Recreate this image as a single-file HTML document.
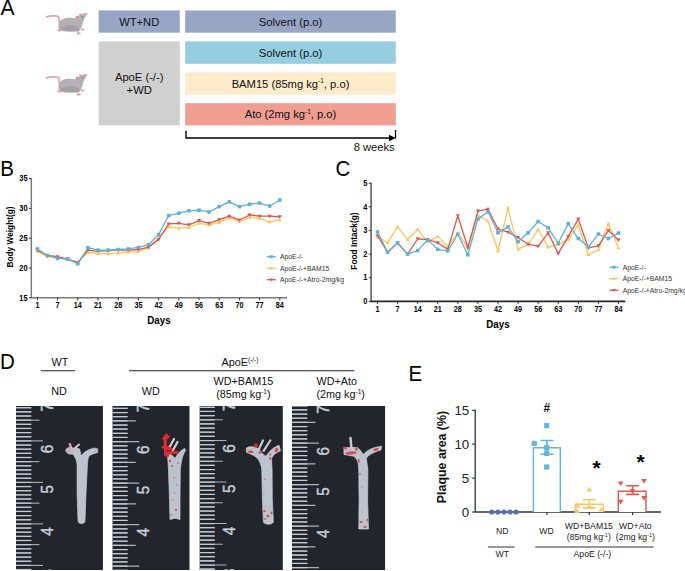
<!DOCTYPE html>
<html><head><meta charset="utf-8"><style>
html,body{margin:0;padding:0;background:#fff;width:685px;height:571px;overflow:hidden}
svg{display:block}
text{font-family:"Liberation Sans",sans-serif}
</style></head><body>
<svg width="685" height="571" viewBox="0 0 685 571">
<defs><filter id="soft" x="-20%" y="-20%" width="140%" height="140%"><feGaussianBlur stdDeviation="0.35"/></filter></defs>
<text transform="translate(0.6,15.0) scale(1.03,1.1)" font-size="20.5" text-anchor="start" font-weight="normal" fill="#000" >A</text>
<g transform="translate(0,0)"><path d="M46.5,16.9 C49,15.9 52,15.6 55.5,15.9 C57.5,16 58.8,16.5 59,17.8 C59.2,19.5 58.8,21 59.6,23.2" fill="none" stroke="#dba7ac" stroke-width="1.7" stroke-linecap="round"/><ellipse cx="59.6" cy="30.3" rx="2.3" ry="1.3" fill="#dba7ac"/><ellipse cx="82.6" cy="29.6" rx="1.9" ry="1.1" fill="#dba7ac"/><ellipse cx="78.6" cy="33.4" rx="2.1" ry="1.2" fill="#dba7ac"/><path d="M58.4,27 C58,23 60,20 63.5,18.8 C66,18 69.5,17.6 72.5,18 C74,18.3 75,18.6 76.2,17.9 C78,16.5 80.5,14.2 83.2,13.5 C84.5,13.2 85.8,13.3 86.9,13.7 C86.6,15.5 85.3,17.4 83.8,19.5 C83.2,22 82.5,25 81.4,27.5 C80.8,29 79.8,30.5 78.8,31.8 C75.5,31.4 72.5,31.6 69,31.5 C65,31.4 61.5,30.9 59.8,29.9 C58.8,29.1 58.4,28 58.4,27 Z" fill="#b4b0b3"/><path d="M60,28.5 C63,26 68,24.5 73,25 C76,25.5 78.5,27 79.5,29.5 C78.5,31 76,31.3 72,31.4 C66,31.4 62,30.8 60,28.5 Z" fill="#979396" opacity="0.55"/><ellipse cx="77.4" cy="17.6" rx="1.9" ry="2.1" fill="#cf9ea4"/><ellipse cx="80.2" cy="14.8" rx="1.1" ry="1.3" fill="#d69aa0"/><circle cx="82.3" cy="16.8" r="0.6" fill="#444"/><circle cx="86.8" cy="13.8" r="0.8" fill="#dc9aa2"/></g>
<g transform="translate(0,61)"><path d="M46.5,16.9 C49,15.9 52,15.6 55.5,15.9 C57.5,16 58.8,16.5 59,17.8 C59.2,19.5 58.8,21 59.6,23.2" fill="none" stroke="#dba7ac" stroke-width="1.7" stroke-linecap="round"/><ellipse cx="59.6" cy="30.3" rx="2.3" ry="1.3" fill="#dba7ac"/><ellipse cx="82.6" cy="29.6" rx="1.9" ry="1.1" fill="#dba7ac"/><ellipse cx="78.6" cy="33.4" rx="2.1" ry="1.2" fill="#dba7ac"/><path d="M58.4,27 C58,23 60,20 63.5,18.8 C66,18 69.5,17.6 72.5,18 C74,18.3 75,18.6 76.2,17.9 C78,16.5 80.5,14.2 83.2,13.5 C84.5,13.2 85.8,13.3 86.9,13.7 C86.6,15.5 85.3,17.4 83.8,19.5 C83.2,22 82.5,25 81.4,27.5 C80.8,29 79.8,30.5 78.8,31.8 C75.5,31.4 72.5,31.6 69,31.5 C65,31.4 61.5,30.9 59.8,29.9 C58.8,29.1 58.4,28 58.4,27 Z" fill="#b4b0b3"/><path d="M60,28.5 C63,26 68,24.5 73,25 C76,25.5 78.5,27 79.5,29.5 C78.5,31 76,31.3 72,31.4 C66,31.4 62,30.8 60,28.5 Z" fill="#979396" opacity="0.55"/><ellipse cx="77.4" cy="17.6" rx="1.9" ry="2.1" fill="#cf9ea4"/><ellipse cx="80.2" cy="14.8" rx="1.1" ry="1.3" fill="#d69aa0"/><circle cx="82.3" cy="16.8" r="0.6" fill="#444"/><circle cx="86.8" cy="13.8" r="0.8" fill="#dc9aa2"/></g>
<rect x="98.7" y="10.4" width="81.1" height="22.3" fill="#98a6c6"/>
<rect x="98.7" y="41.4" width="81.1" height="84.0" fill="#d1d0d1"/>
<rect x="185.2" y="10.4" width="210.6" height="22.3" fill="#98a6c6"/>
<rect x="185.2" y="41.4" width="210.6" height="22.4" fill="#96cde0"/>
<rect x="185.2" y="72.4" width="210.6" height="22.2" fill="#fdebc9"/>
<rect x="185.2" y="103.2" width="210.6" height="22.2" fill="#f09d92"/>
<text x="139.2" y="25.6" font-size="11.2" text-anchor="middle" font-weight="normal" fill="#111" >WT+ND</text>
<text x="139.2" y="80.5" font-size="11.2" text-anchor="middle" font-weight="normal" fill="#111" >ApoE (-/-)</text>
<text x="139.2" y="93.5" font-size="11.2" text-anchor="middle" font-weight="normal" fill="#111" >+WD</text>
<text x="290.5" y="56.6" font-size="11.2" text-anchor="middle" font-weight="normal" fill="#111" >Solvent (p.o)</text>
<text x="290.5" y="25.6" font-size="11.2" text-anchor="middle" font-weight="normal" fill="#111" >Solvent (p.o)</text>
<text x="290.5" y="87.5" font-size="11.2" text-anchor="middle" font-weight="normal" fill="#111" >BAM15 (85mg kg<tspan font-size="6.5" dy="-4.2">-1</tspan><tspan dy="4.2">, p.o)</tspan></text>
<text x="290.5" y="118.3" font-size="11.2" text-anchor="middle" font-weight="normal" fill="#111" >Ato (2mg kg<tspan font-size="6.5" dy="-4.2">-1</tspan><tspan dy="4.2">, p.o)</tspan></text>
<path d="M186,130.8 V138 H390" fill="none" stroke="#000" stroke-width="1.4"/>
<path d="M395.5,130 V138.6" fill="none" stroke="#000" stroke-width="1.3"/>
<path d="M389,134.8 L395.6,138 L389,141.2 Z" fill="#000"/>
<text x="394.7" y="150.6" font-size="11.2" text-anchor="end" font-weight="normal" fill="#111" >8 weeks</text>
<text transform="translate(0.2,175.6) scale(1.0,1.1)" font-size="20.5" text-anchor="start" font-weight="normal" fill="#000" >B</text>
<path d="M31.3,178.1 V297.8" fill="none" stroke="#7a7a7a" stroke-width="1.5"/>
<path d="M30.55,297.8 H287" fill="none" stroke="#7a7a7a" stroke-width="1.6"/>
<path d="M28.900000000000002,297.80 H31.3" stroke="#222" stroke-width="0.9"/>
<text transform="translate(27.5,300.5) scale(1.0,1.2)" font-size="7.4" text-anchor="end" font-weight="bold" fill="#000" >15</text>
<path d="M28.900000000000002,268.00 H31.3" stroke="#222" stroke-width="0.9"/>
<text transform="translate(27.5,270.7) scale(1.0,1.2)" font-size="7.4" text-anchor="end" font-weight="bold" fill="#000" >20</text>
<path d="M28.900000000000002,238.20 H31.3" stroke="#222" stroke-width="0.9"/>
<text transform="translate(27.5,240.89999999999998) scale(1.0,1.2)" font-size="7.4" text-anchor="end" font-weight="bold" fill="#000" >25</text>
<path d="M28.900000000000002,208.40 H31.3" stroke="#222" stroke-width="0.9"/>
<text transform="translate(27.5,211.1) scale(1.0,1.2)" font-size="7.4" text-anchor="end" font-weight="bold" fill="#000" >30</text>
<path d="M28.900000000000002,178.60 H31.3" stroke="#222" stroke-width="0.9"/>
<text transform="translate(27.5,181.29999999999998) scale(1.0,1.2)" font-size="7.4" text-anchor="end" font-weight="bold" fill="#000" >35</text>
<path d="M37.40,297.8 V300.40000000000003" stroke="#222" stroke-width="0.9"/>
<text transform="translate(37.40,308.1) scale(1.0,1.2)" font-size="7.2" text-anchor="middle" font-weight="bold" fill="#000" >1</text>
<path d="M57.60,297.8 V300.40000000000003" stroke="#222" stroke-width="0.9"/>
<text transform="translate(57.60,308.1) scale(1.0,1.2)" font-size="7.2" text-anchor="middle" font-weight="bold" fill="#000" >7</text>
<path d="M77.80,297.8 V300.40000000000003" stroke="#222" stroke-width="0.9"/>
<text transform="translate(77.80,308.1) scale(1.0,1.2)" font-size="7.2" text-anchor="middle" font-weight="bold" fill="#000" >14</text>
<path d="M98.00,297.8 V300.40000000000003" stroke="#222" stroke-width="0.9"/>
<text transform="translate(98.00,308.1) scale(1.0,1.2)" font-size="7.2" text-anchor="middle" font-weight="bold" fill="#000" >21</text>
<path d="M118.20,297.8 V300.40000000000003" stroke="#222" stroke-width="0.9"/>
<text transform="translate(118.20,308.1) scale(1.0,1.2)" font-size="7.2" text-anchor="middle" font-weight="bold" fill="#000" >28</text>
<path d="M138.40,297.8 V300.40000000000003" stroke="#222" stroke-width="0.9"/>
<text transform="translate(138.40,308.1) scale(1.0,1.2)" font-size="7.2" text-anchor="middle" font-weight="bold" fill="#000" >35</text>
<path d="M158.60,297.8 V300.40000000000003" stroke="#222" stroke-width="0.9"/>
<text transform="translate(158.60,308.1) scale(1.0,1.2)" font-size="7.2" text-anchor="middle" font-weight="bold" fill="#000" >42</text>
<path d="M178.80,297.8 V300.40000000000003" stroke="#222" stroke-width="0.9"/>
<text transform="translate(178.80,308.1) scale(1.0,1.2)" font-size="7.2" text-anchor="middle" font-weight="bold" fill="#000" >49</text>
<path d="M199.00,297.8 V300.40000000000003" stroke="#222" stroke-width="0.9"/>
<text transform="translate(199.00,308.1) scale(1.0,1.2)" font-size="7.2" text-anchor="middle" font-weight="bold" fill="#000" >56</text>
<path d="M219.20,297.8 V300.40000000000003" stroke="#222" stroke-width="0.9"/>
<text transform="translate(219.20,308.1) scale(1.0,1.2)" font-size="7.2" text-anchor="middle" font-weight="bold" fill="#000" >63</text>
<path d="M239.40,297.8 V300.40000000000003" stroke="#222" stroke-width="0.9"/>
<text transform="translate(239.40,308.1) scale(1.0,1.2)" font-size="7.2" text-anchor="middle" font-weight="bold" fill="#000" >70</text>
<path d="M259.60,297.8 V300.40000000000003" stroke="#222" stroke-width="0.9"/>
<text transform="translate(259.60,308.1) scale(1.0,1.2)" font-size="7.2" text-anchor="middle" font-weight="bold" fill="#000" >77</text>
<path d="M279.80,297.8 V300.40000000000003" stroke="#222" stroke-width="0.9"/>
<text transform="translate(279.80,308.1) scale(1.0,1.2)" font-size="7.2" text-anchor="middle" font-weight="bold" fill="#000" >84</text>
<polyline points="37.40,251.31 47.50,256.68 57.60,257.27 67.70,259.06 77.80,262.04 87.90,252.50 98.00,253.70 108.10,253.70 118.20,253.10 128.30,251.91 138.40,251.31 148.50,247.74 158.60,238.20 168.70,226.88 178.80,228.07 188.90,227.77 199.00,223.30 209.10,224.79 219.20,222.41 229.30,217.94 239.40,221.51 249.50,217.34 259.60,218.53 269.70,221.81 279.80,219.72" fill="none" stroke="#fcc65c" stroke-width="1.3" stroke-linejoin="round"/>
<path d="M37.40,249.30 L39.41,252.82 L35.39,252.82 Z" fill="#fcc65c"/>
<path d="M47.50,254.66 L49.51,258.19 L45.49,258.19 Z" fill="#fcc65c"/>
<path d="M57.60,255.26 L59.61,258.78 L55.59,258.78 Z" fill="#fcc65c"/>
<path d="M67.70,257.05 L69.71,260.57 L65.69,260.57 Z" fill="#fcc65c"/>
<path d="M77.80,260.03 L79.81,263.55 L75.79,263.55 Z" fill="#fcc65c"/>
<path d="M87.90,250.49 L89.91,254.01 L85.89,254.01 Z" fill="#fcc65c"/>
<path d="M98.00,251.68 L100.01,255.21 L95.99,255.21 Z" fill="#fcc65c"/>
<path d="M108.10,251.68 L110.11,255.21 L106.09,255.21 Z" fill="#fcc65c"/>
<path d="M118.20,251.09 L120.21,254.61 L116.19,254.61 Z" fill="#fcc65c"/>
<path d="M128.30,249.90 L130.31,253.42 L126.29,253.42 Z" fill="#fcc65c"/>
<path d="M138.40,249.30 L140.41,252.82 L136.39,252.82 Z" fill="#fcc65c"/>
<path d="M148.50,245.72 L150.51,249.25 L146.49,249.25 Z" fill="#fcc65c"/>
<path d="M158.60,236.19 L160.61,239.71 L156.59,239.71 Z" fill="#fcc65c"/>
<path d="M168.70,224.86 L170.71,228.39 L166.69,228.39 Z" fill="#fcc65c"/>
<path d="M178.80,226.06 L180.81,229.58 L176.79,229.58 Z" fill="#fcc65c"/>
<path d="M188.90,225.76 L190.91,229.28 L186.89,229.28 Z" fill="#fcc65c"/>
<path d="M199.00,221.29 L201.01,224.81 L196.99,224.81 Z" fill="#fcc65c"/>
<path d="M209.10,222.78 L211.11,226.30 L207.09,226.30 Z" fill="#fcc65c"/>
<path d="M219.20,220.39 L221.21,223.92 L217.19,223.92 Z" fill="#fcc65c"/>
<path d="M229.30,215.92 L231.31,219.45 L227.29,219.45 Z" fill="#fcc65c"/>
<path d="M239.40,219.50 L241.41,223.02 L237.39,223.02 Z" fill="#fcc65c"/>
<path d="M249.50,215.33 L251.51,218.85 L247.49,218.85 Z" fill="#fcc65c"/>
<path d="M259.60,216.52 L261.61,220.04 L257.59,220.04 Z" fill="#fcc65c"/>
<path d="M269.70,219.80 L271.71,223.32 L267.69,223.32 Z" fill="#fcc65c"/>
<path d="M279.80,217.71 L281.81,221.23 L277.79,221.23 Z" fill="#fcc65c"/>
<polyline points="37.40,250.12 47.50,255.48 57.60,256.68 67.70,259.06 77.80,262.64 87.90,250.12 98.00,251.31 108.10,250.72 118.20,250.12 128.30,250.12 138.40,249.52 148.50,247.14 158.60,239.39 168.70,223.90 178.80,223.30 188.90,224.79 199.00,220.62 209.10,223.30 219.20,219.72 229.30,216.15 239.40,220.02 249.50,214.96 259.60,216.15 269.70,216.15 279.80,216.74" fill="none" stroke="#e2554c" stroke-width="1.3" stroke-linejoin="round"/>
<path d="M37.40,252.13 L39.41,248.61 L35.39,248.61 Z" fill="#e2554c"/>
<path d="M47.50,257.50 L49.51,253.97 L45.49,253.97 Z" fill="#e2554c"/>
<path d="M57.60,258.69 L59.61,255.17 L55.59,255.17 Z" fill="#e2554c"/>
<path d="M67.70,261.07 L69.71,257.55 L65.69,257.55 Z" fill="#e2554c"/>
<path d="M77.80,264.65 L79.81,261.13 L75.79,261.13 Z" fill="#e2554c"/>
<path d="M87.90,252.13 L89.91,248.61 L85.89,248.61 Z" fill="#e2554c"/>
<path d="M98.00,253.32 L100.01,249.80 L95.99,249.80 Z" fill="#e2554c"/>
<path d="M108.10,252.73 L110.11,249.21 L106.09,249.21 Z" fill="#e2554c"/>
<path d="M118.20,252.13 L120.21,248.61 L116.19,248.61 Z" fill="#e2554c"/>
<path d="M128.30,252.13 L130.31,248.61 L126.29,248.61 Z" fill="#e2554c"/>
<path d="M138.40,251.54 L140.41,248.01 L136.39,248.01 Z" fill="#e2554c"/>
<path d="M148.50,249.15 L150.51,245.63 L146.49,245.63 Z" fill="#e2554c"/>
<path d="M158.60,241.40 L160.61,237.88 L156.59,237.88 Z" fill="#e2554c"/>
<path d="M168.70,225.91 L170.71,222.39 L166.69,222.39 Z" fill="#e2554c"/>
<path d="M178.80,225.31 L180.81,221.79 L176.79,221.79 Z" fill="#e2554c"/>
<path d="M188.90,226.80 L190.91,223.28 L186.89,223.28 Z" fill="#e2554c"/>
<path d="M199.00,222.63 L201.01,219.11 L196.99,219.11 Z" fill="#e2554c"/>
<path d="M209.10,225.31 L211.11,221.79 L207.09,221.79 Z" fill="#e2554c"/>
<path d="M219.20,221.74 L221.21,218.21 L217.19,218.21 Z" fill="#e2554c"/>
<path d="M229.30,218.16 L231.31,214.64 L227.29,214.64 Z" fill="#e2554c"/>
<path d="M239.40,222.03 L241.41,218.51 L237.39,218.51 Z" fill="#e2554c"/>
<path d="M249.50,216.97 L251.51,213.45 L247.49,213.45 Z" fill="#e2554c"/>
<path d="M259.60,218.16 L261.61,214.64 L257.59,214.64 Z" fill="#e2554c"/>
<path d="M269.70,218.16 L271.71,214.64 L267.69,214.64 Z" fill="#e2554c"/>
<path d="M279.80,218.76 L281.81,215.23 L277.79,215.23 Z" fill="#e2554c"/>
<polyline points="37.40,248.93 47.50,255.48 57.60,258.46 67.70,259.06 77.80,263.83 87.90,247.74 98.00,250.12 108.10,250.12 118.20,249.52 128.30,248.93 138.40,247.44 148.50,244.76 158.60,234.62 168.70,215.55 178.80,213.17 188.90,210.78 199.00,210.19 209.10,211.98 219.20,206.61 229.30,201.84 239.40,206.61 249.50,204.23 259.60,203.04 269.70,206.02 279.80,200.06" fill="none" stroke="#5cb2d6" stroke-width="1.3" stroke-linejoin="round"/>
<rect x="35.65" y="247.18" width="3.50" height="3.50" fill="#5cb2d6"/>
<rect x="45.75" y="253.73" width="3.50" height="3.50" fill="#5cb2d6"/>
<rect x="55.85" y="256.71" width="3.50" height="3.50" fill="#5cb2d6"/>
<rect x="65.95" y="257.31" width="3.50" height="3.50" fill="#5cb2d6"/>
<rect x="76.05" y="262.08" width="3.50" height="3.50" fill="#5cb2d6"/>
<rect x="86.15" y="245.99" width="3.50" height="3.50" fill="#5cb2d6"/>
<rect x="96.25" y="248.37" width="3.50" height="3.50" fill="#5cb2d6"/>
<rect x="106.35" y="248.37" width="3.50" height="3.50" fill="#5cb2d6"/>
<rect x="116.45" y="247.77" width="3.50" height="3.50" fill="#5cb2d6"/>
<rect x="126.55" y="247.18" width="3.50" height="3.50" fill="#5cb2d6"/>
<rect x="136.65" y="245.69" width="3.50" height="3.50" fill="#5cb2d6"/>
<rect x="146.75" y="243.01" width="3.50" height="3.50" fill="#5cb2d6"/>
<rect x="156.85" y="232.87" width="3.50" height="3.50" fill="#5cb2d6"/>
<rect x="166.95" y="213.80" width="3.50" height="3.50" fill="#5cb2d6"/>
<rect x="177.05" y="211.42" width="3.50" height="3.50" fill="#5cb2d6"/>
<rect x="187.15" y="209.03" width="3.50" height="3.50" fill="#5cb2d6"/>
<rect x="197.25" y="208.44" width="3.50" height="3.50" fill="#5cb2d6"/>
<rect x="207.35" y="210.23" width="3.50" height="3.50" fill="#5cb2d6"/>
<rect x="217.45" y="204.86" width="3.50" height="3.50" fill="#5cb2d6"/>
<rect x="227.55" y="200.09" width="3.50" height="3.50" fill="#5cb2d6"/>
<rect x="237.65" y="204.86" width="3.50" height="3.50" fill="#5cb2d6"/>
<rect x="247.75" y="202.48" width="3.50" height="3.50" fill="#5cb2d6"/>
<rect x="257.85" y="201.29" width="3.50" height="3.50" fill="#5cb2d6"/>
<rect x="267.95" y="204.27" width="3.50" height="3.50" fill="#5cb2d6"/>
<rect x="278.05" y="198.31" width="3.50" height="3.50" fill="#5cb2d6"/>
<text transform="translate(13.2,237.0) rotate(-90)" font-size="8.3" text-anchor="middle" font-weight="bold" fill="#000">Body Weight(g)</text>
<text transform="translate(159,324.40000000000003) scale(1.0,1.12)" font-size="9.8" text-anchor="middle" font-weight="bold" fill="#000" >Days</text>
<path d="M266.7,256.7 H275.90000000000003" stroke="#5cb2d6" stroke-width="1.3"/>
<rect x="269.80" y="255.20" width="3.00" height="3.00" fill="#5cb2d6"/>
<text x="280.0" y="259.09999999999997" font-size="6.8" text-anchor="start" font-weight="normal" fill="#333" >ApoE-/-</text>
<path d="M266.7,268.2 H275.90000000000003" stroke="#fcc65c" stroke-width="1.3"/>
<path d="M271.30,266.47 L273.03,269.49 L269.57,269.49 Z" fill="#fcc65c"/>
<text x="280.0" y="270.59999999999997" font-size="6.8" text-anchor="start" font-weight="normal" fill="#333" >ApoE-/-+BAM15</text>
<path d="M266.7,279.7 H275.90000000000003" stroke="#e2554c" stroke-width="1.3"/>
<path d="M271.30,281.43 L273.03,278.41 L269.57,278.41 Z" fill="#e2554c"/>
<text x="280.0" y="282.09999999999997" font-size="6.8" text-anchor="start" font-weight="normal" fill="#333" >ApoE-/-+Atro-2mg/kg</text>
<text transform="translate(335.5,176.3) scale(1.0,1.1)" font-size="20.5" text-anchor="start" font-weight="normal" fill="#000" >C</text>
<path d="M371.1,182.7 V301.4" fill="none" stroke="#555555" stroke-width="1.5"/>
<path d="M370.35,301.4 H625.3" fill="none" stroke="#262626" stroke-width="1.6"/>
<path d="M368.70000000000005,301.40 H371.1" stroke="#222" stroke-width="0.9"/>
<text transform="translate(367.3,304.09999999999997) scale(1.0,1.2)" font-size="7.4" text-anchor="end" font-weight="bold" fill="#000" >0</text>
<path d="M368.70000000000005,277.76 H371.1" stroke="#222" stroke-width="0.9"/>
<text transform="translate(367.3,280.46) scale(1.0,1.2)" font-size="7.4" text-anchor="end" font-weight="bold" fill="#000" >1</text>
<path d="M368.70000000000005,254.12 H371.1" stroke="#222" stroke-width="0.9"/>
<text transform="translate(367.3,256.82) scale(1.0,1.2)" font-size="7.4" text-anchor="end" font-weight="bold" fill="#000" >2</text>
<path d="M368.70000000000005,230.48 H371.1" stroke="#222" stroke-width="0.9"/>
<text transform="translate(367.3,233.17999999999998) scale(1.0,1.2)" font-size="7.4" text-anchor="end" font-weight="bold" fill="#000" >3</text>
<path d="M368.70000000000005,206.84 H371.1" stroke="#222" stroke-width="0.9"/>
<text transform="translate(367.3,209.53999999999996) scale(1.0,1.2)" font-size="7.4" text-anchor="end" font-weight="bold" fill="#000" >4</text>
<path d="M368.70000000000005,183.20 H371.1" stroke="#222" stroke-width="0.9"/>
<text transform="translate(367.3,185.89999999999998) scale(1.0,1.2)" font-size="7.4" text-anchor="end" font-weight="bold" fill="#000" >5</text>
<path d="M377.50,301.4 V304.0" stroke="#222" stroke-width="0.9"/>
<text transform="translate(377.50,311.7) scale(1.0,1.2)" font-size="7.2" text-anchor="middle" font-weight="bold" fill="#000" >1</text>
<path d="M397.58,301.4 V304.0" stroke="#222" stroke-width="0.9"/>
<text transform="translate(397.58,311.7) scale(1.0,1.2)" font-size="7.2" text-anchor="middle" font-weight="bold" fill="#000" >7</text>
<path d="M417.66,301.4 V304.0" stroke="#222" stroke-width="0.9"/>
<text transform="translate(417.66,311.7) scale(1.0,1.2)" font-size="7.2" text-anchor="middle" font-weight="bold" fill="#000" >14</text>
<path d="M437.74,301.4 V304.0" stroke="#222" stroke-width="0.9"/>
<text transform="translate(437.74,311.7) scale(1.0,1.2)" font-size="7.2" text-anchor="middle" font-weight="bold" fill="#000" >21</text>
<path d="M457.82,301.4 V304.0" stroke="#222" stroke-width="0.9"/>
<text transform="translate(457.82,311.7) scale(1.0,1.2)" font-size="7.2" text-anchor="middle" font-weight="bold" fill="#000" >28</text>
<path d="M477.90,301.4 V304.0" stroke="#222" stroke-width="0.9"/>
<text transform="translate(477.90,311.7) scale(1.0,1.2)" font-size="7.2" text-anchor="middle" font-weight="bold" fill="#000" >35</text>
<path d="M497.98,301.4 V304.0" stroke="#222" stroke-width="0.9"/>
<text transform="translate(497.98,311.7) scale(1.0,1.2)" font-size="7.2" text-anchor="middle" font-weight="bold" fill="#000" >42</text>
<path d="M518.06,301.4 V304.0" stroke="#222" stroke-width="0.9"/>
<text transform="translate(518.06,311.7) scale(1.0,1.2)" font-size="7.2" text-anchor="middle" font-weight="bold" fill="#000" >49</text>
<path d="M538.14,301.4 V304.0" stroke="#222" stroke-width="0.9"/>
<text transform="translate(538.14,311.7) scale(1.0,1.2)" font-size="7.2" text-anchor="middle" font-weight="bold" fill="#000" >56</text>
<path d="M558.22,301.4 V304.0" stroke="#222" stroke-width="0.9"/>
<text transform="translate(558.22,311.7) scale(1.0,1.2)" font-size="7.2" text-anchor="middle" font-weight="bold" fill="#000" >63</text>
<path d="M578.30,301.4 V304.0" stroke="#222" stroke-width="0.9"/>
<text transform="translate(578.30,311.7) scale(1.0,1.2)" font-size="7.2" text-anchor="middle" font-weight="bold" fill="#000" >70</text>
<path d="M598.38,301.4 V304.0" stroke="#222" stroke-width="0.9"/>
<text transform="translate(598.38,311.7) scale(1.0,1.2)" font-size="7.2" text-anchor="middle" font-weight="bold" fill="#000" >77</text>
<path d="M618.46,301.4 V304.0" stroke="#222" stroke-width="0.9"/>
<text transform="translate(618.46,311.7) scale(1.0,1.2)" font-size="7.2" text-anchor="middle" font-weight="bold" fill="#000" >84</text>
<polyline points="377.50,236.63 387.54,242.54 397.58,226.70 407.62,239.46 417.66,229.53 427.70,241.59 437.74,236.39 447.78,246.56 457.82,232.84 467.86,247.97 477.90,215.11 487.94,221.02 497.98,250.81 508.02,207.79 518.06,249.16 528.10,244.43 538.14,229.53 548.18,247.03 558.22,244.43 568.26,239.70 578.30,225.28 588.34,254.59 598.38,249.86 608.42,223.62 618.46,247.74" fill="none" stroke="#fcc65c" stroke-width="1.3" stroke-linejoin="round"/>
<path d="M377.50,234.61 L379.51,238.14 L375.49,238.14 Z" fill="#fcc65c"/>
<path d="M387.54,240.52 L389.55,244.05 L385.53,244.05 Z" fill="#fcc65c"/>
<path d="M397.58,224.69 L399.59,228.21 L395.57,228.21 Z" fill="#fcc65c"/>
<path d="M407.62,237.45 L409.63,240.97 L405.61,240.97 Z" fill="#fcc65c"/>
<path d="M417.66,227.52 L419.67,231.04 L415.65,231.04 Z" fill="#fcc65c"/>
<path d="M427.70,239.58 L429.71,243.10 L425.69,243.10 Z" fill="#fcc65c"/>
<path d="M437.74,234.38 L439.75,237.90 L435.73,237.90 Z" fill="#fcc65c"/>
<path d="M447.78,244.54 L449.79,248.06 L445.77,248.06 Z" fill="#fcc65c"/>
<path d="M457.82,230.83 L459.83,234.35 L455.81,234.35 Z" fill="#fcc65c"/>
<path d="M467.86,245.96 L469.87,249.48 L465.85,249.48 Z" fill="#fcc65c"/>
<path d="M477.90,213.10 L479.91,216.62 L475.89,216.62 Z" fill="#fcc65c"/>
<path d="M487.94,219.01 L489.95,222.53 L485.93,222.53 Z" fill="#fcc65c"/>
<path d="M497.98,248.80 L499.99,252.32 L495.97,252.32 Z" fill="#fcc65c"/>
<path d="M508.02,205.77 L510.03,209.29 L506.01,209.29 Z" fill="#fcc65c"/>
<path d="M518.06,247.14 L520.07,250.66 L516.05,250.66 Z" fill="#fcc65c"/>
<path d="M528.10,242.42 L530.11,245.94 L526.09,245.94 Z" fill="#fcc65c"/>
<path d="M538.14,227.52 L540.15,231.04 L536.13,231.04 Z" fill="#fcc65c"/>
<path d="M548.18,245.02 L550.19,248.54 L546.17,248.54 Z" fill="#fcc65c"/>
<path d="M558.22,242.42 L560.23,245.94 L556.21,245.94 Z" fill="#fcc65c"/>
<path d="M568.26,237.69 L570.27,241.21 L566.25,241.21 Z" fill="#fcc65c"/>
<path d="M578.30,223.27 L580.31,226.79 L576.29,226.79 Z" fill="#fcc65c"/>
<path d="M588.34,252.58 L590.35,256.10 L586.33,256.10 Z" fill="#fcc65c"/>
<path d="M598.38,247.85 L600.39,251.37 L596.37,251.37 Z" fill="#fcc65c"/>
<path d="M608.42,221.61 L610.43,225.13 L606.41,225.13 Z" fill="#fcc65c"/>
<path d="M618.46,245.72 L620.47,249.25 L616.45,249.25 Z" fill="#fcc65c"/>
<polyline points="377.50,235.68 387.54,252.23 397.58,243.01 407.62,254.12 417.66,238.75 427.70,239.70 437.74,242.77 447.78,249.39 457.82,215.82 467.86,247.74 477.90,211.10 487.94,209.20 497.98,229.06 508.02,232.13 518.06,237.57 528.10,244.19 538.14,246.32 548.18,232.84 558.22,253.65 568.26,236.39 578.30,219.13 588.34,247.97 598.38,245.85 608.42,230.48 618.46,239.94" fill="none" stroke="#e2554c" stroke-width="1.3" stroke-linejoin="round"/>
<path d="M377.50,237.69 L379.51,234.17 L375.49,234.17 Z" fill="#e2554c"/>
<path d="M387.54,254.24 L389.55,250.72 L385.53,250.72 Z" fill="#e2554c"/>
<path d="M397.58,245.02 L399.59,241.50 L395.57,241.50 Z" fill="#e2554c"/>
<path d="M407.62,256.13 L409.63,252.61 L405.61,252.61 Z" fill="#e2554c"/>
<path d="M417.66,240.77 L419.67,237.24 L415.65,237.24 Z" fill="#e2554c"/>
<path d="M427.70,241.71 L429.71,238.19 L425.69,238.19 Z" fill="#e2554c"/>
<path d="M437.74,244.79 L439.75,241.26 L435.73,241.26 Z" fill="#e2554c"/>
<path d="M447.78,251.40 L449.79,247.88 L445.77,247.88 Z" fill="#e2554c"/>
<path d="M457.82,217.84 L459.83,214.31 L455.81,214.31 Z" fill="#e2554c"/>
<path d="M467.86,249.75 L469.87,246.23 L465.85,246.23 Z" fill="#e2554c"/>
<path d="M477.90,213.11 L479.91,209.59 L475.89,209.59 Z" fill="#e2554c"/>
<path d="M487.94,211.22 L489.95,207.69 L485.93,207.69 Z" fill="#e2554c"/>
<path d="M497.98,231.07 L499.99,227.55 L495.97,227.55 Z" fill="#e2554c"/>
<path d="M508.02,234.15 L510.03,230.63 L506.01,230.63 Z" fill="#e2554c"/>
<path d="M518.06,239.58 L520.07,236.06 L516.05,236.06 Z" fill="#e2554c"/>
<path d="M528.10,246.20 L530.11,242.68 L526.09,242.68 Z" fill="#e2554c"/>
<path d="M538.14,248.33 L540.15,244.81 L536.13,244.81 Z" fill="#e2554c"/>
<path d="M548.18,234.86 L550.19,231.33 L546.17,231.33 Z" fill="#e2554c"/>
<path d="M558.22,255.66 L560.23,252.14 L556.21,252.14 Z" fill="#e2554c"/>
<path d="M568.26,238.40 L570.27,234.88 L566.25,234.88 Z" fill="#e2554c"/>
<path d="M578.30,221.15 L580.31,217.62 L576.29,217.62 Z" fill="#e2554c"/>
<path d="M588.34,249.99 L590.35,246.46 L586.33,246.46 Z" fill="#e2554c"/>
<path d="M598.38,247.86 L600.39,244.34 L596.37,244.34 Z" fill="#e2554c"/>
<path d="M608.42,232.49 L610.43,228.97 L606.41,228.97 Z" fill="#e2554c"/>
<path d="M618.46,241.95 L620.47,238.43 L616.45,238.43 Z" fill="#e2554c"/>
<polyline points="377.50,231.90 387.54,251.99 397.58,243.01 407.62,254.12 417.66,250.57 427.70,239.70 437.74,249.39 447.78,250.81 457.82,234.26 467.86,254.83 477.90,219.13 487.94,211.57 497.98,232.84 508.02,226.93 518.06,241.83 528.10,232.84 538.14,221.50 548.18,227.88 558.22,243.25 568.26,223.62 578.30,238.52 588.34,246.79 598.38,234.03 608.42,238.52 618.46,233.08" fill="none" stroke="#5cb2d6" stroke-width="1.3" stroke-linejoin="round"/>
<rect x="375.75" y="230.15" width="3.50" height="3.50" fill="#5cb2d6"/>
<rect x="385.79" y="250.24" width="3.50" height="3.50" fill="#5cb2d6"/>
<rect x="395.83" y="241.26" width="3.50" height="3.50" fill="#5cb2d6"/>
<rect x="405.87" y="252.37" width="3.50" height="3.50" fill="#5cb2d6"/>
<rect x="415.91" y="248.82" width="3.50" height="3.50" fill="#5cb2d6"/>
<rect x="425.95" y="237.95" width="3.50" height="3.50" fill="#5cb2d6"/>
<rect x="435.99" y="247.64" width="3.50" height="3.50" fill="#5cb2d6"/>
<rect x="446.03" y="249.06" width="3.50" height="3.50" fill="#5cb2d6"/>
<rect x="456.07" y="232.51" width="3.50" height="3.50" fill="#5cb2d6"/>
<rect x="466.11" y="253.08" width="3.50" height="3.50" fill="#5cb2d6"/>
<rect x="476.15" y="217.38" width="3.50" height="3.50" fill="#5cb2d6"/>
<rect x="486.19" y="209.82" width="3.50" height="3.50" fill="#5cb2d6"/>
<rect x="496.23" y="231.09" width="3.50" height="3.50" fill="#5cb2d6"/>
<rect x="506.27" y="225.18" width="3.50" height="3.50" fill="#5cb2d6"/>
<rect x="516.31" y="240.08" width="3.50" height="3.50" fill="#5cb2d6"/>
<rect x="526.35" y="231.09" width="3.50" height="3.50" fill="#5cb2d6"/>
<rect x="536.39" y="219.75" width="3.50" height="3.50" fill="#5cb2d6"/>
<rect x="546.43" y="226.13" width="3.50" height="3.50" fill="#5cb2d6"/>
<rect x="556.47" y="241.50" width="3.50" height="3.50" fill="#5cb2d6"/>
<rect x="566.51" y="221.87" width="3.50" height="3.50" fill="#5cb2d6"/>
<rect x="576.55" y="236.77" width="3.50" height="3.50" fill="#5cb2d6"/>
<rect x="586.59" y="245.04" width="3.50" height="3.50" fill="#5cb2d6"/>
<rect x="596.63" y="232.28" width="3.50" height="3.50" fill="#5cb2d6"/>
<rect x="606.67" y="236.77" width="3.50" height="3.50" fill="#5cb2d6"/>
<rect x="616.71" y="231.33" width="3.50" height="3.50" fill="#5cb2d6"/>
<text transform="translate(357.0,241.1) rotate(-90)" font-size="8.3" text-anchor="middle" font-weight="bold" fill="#000">Food Intack(g)</text>
<text transform="translate(498,328.0) scale(1.0,1.12)" font-size="9.8" text-anchor="middle" font-weight="bold" fill="#000" >Days</text>
<path d="M609.4,267.2 H618.6" stroke="#5cb2d6" stroke-width="1.3"/>
<rect x="612.50" y="265.70" width="3.00" height="3.00" fill="#5cb2d6"/>
<text x="622.7" y="269.59999999999997" font-size="6.8" text-anchor="start" font-weight="normal" fill="#333" >ApoE-/-</text>
<path d="M609.4,278.7 H618.6" stroke="#fcc65c" stroke-width="1.3"/>
<path d="M614.00,276.97 L615.73,279.99 L612.27,279.99 Z" fill="#fcc65c"/>
<text x="622.7" y="281.09999999999997" font-size="6.8" text-anchor="start" font-weight="normal" fill="#333" >ApoE-/-+BAM15</text>
<path d="M609.4,290.2 H618.6" stroke="#e2554c" stroke-width="1.3"/>
<path d="M614.00,291.93 L615.73,288.91 L612.27,288.91 Z" fill="#e2554c"/>
<text x="622.7" y="292.59999999999997" font-size="6.8" text-anchor="start" font-weight="normal" fill="#333" >ApoE-/-+Atro-2mg/kg</text>
<text transform="translate(0,369) scale(1.0,1.1)" font-size="20.5" text-anchor="start" font-weight="normal" fill="#000" >D</text>
<text x="60" y="366" font-size="10.8" text-anchor="middle" font-weight="normal" fill="#111" >WT</text>
<path d="M40.9,370.7 H75" stroke="#222" stroke-width="1.1"/>
<path d="M129,370.8 H354.4" stroke="#222" stroke-width="1.1"/>
<text x="240" y="366" font-size="10.8" text-anchor="middle" font-weight="normal" fill="#111" >ApoE<tspan font-size="6.5" dy="-3.8">(-/-)</tspan></text>
<text x="59" y="394.5" font-size="10.8" text-anchor="middle" font-weight="normal" fill="#111" >ND</text>
<text x="150.8" y="394.5" font-size="10.8" text-anchor="middle" font-weight="normal" fill="#111" >WD</text>
<text x="243.4" y="385" font-size="10.8" text-anchor="middle" font-weight="normal" fill="#111" >WD+BAM15</text>
<text x="243.4" y="398" font-size="10.8" text-anchor="middle" font-weight="normal" fill="#111" >(85mg kg<tspan font-size="6.5" dy="-3.8">-1</tspan><tspan dy="3.8">)</tspan></text>
<text x="316.5" y="385" font-size="10.8" text-anchor="start" font-weight="normal" fill="#111" >WD+Ato</text>
<text x="316.5" y="398" font-size="10.8" text-anchor="start" font-weight="normal" fill="#111" >(2mg kg<tspan font-size="6.5" dy="-3.8">-1</tspan><tspan dy="3.8">)</tspan></text>
<g><clipPath id="cp16"><rect x="16" y="406" width="86.9" height="164.0"/></clipPath><g clip-path="url(#cp16)"><rect x="16" y="406" width="86.9" height="164.0" fill="#22252b"/><path d="M16,407.70 H31.3" stroke="#aab2bd" stroke-width="1.1"/><path d="M16,407.70 H31.3" stroke="#c4cbd5" stroke-width="1.25"/><path d="M16,411.85 H31.3" stroke="#aab2bd" stroke-width="1.1"/><path d="M16,411.85 H31.3" stroke="#c4cbd5" stroke-width="1.25"/><path d="M16,416.00 H31.3" stroke="#aab2bd" stroke-width="1.1"/><path d="M16,416.00 H31.3" stroke="#c4cbd5" stroke-width="1.25"/><path d="M16,420.15 H39.5" stroke="#aab2bd" stroke-width="1.1"/><path d="M16,420.15 H31.3" stroke="#c4cbd5" stroke-width="1.25"/><path d="M16,424.30 H31.3" stroke="#aab2bd" stroke-width="1.1"/><path d="M16,424.30 H31.3" stroke="#c4cbd5" stroke-width="1.25"/><path d="M16,428.45 H31.3" stroke="#aab2bd" stroke-width="1.1"/><path d="M16,428.45 H31.3" stroke="#c4cbd5" stroke-width="1.25"/><path d="M16,432.60 H31.3" stroke="#aab2bd" stroke-width="1.1"/><path d="M16,432.60 H31.3" stroke="#c4cbd5" stroke-width="1.25"/><path d="M16,436.75 H31.3" stroke="#aab2bd" stroke-width="1.1"/><path d="M16,436.75 H31.3" stroke="#c4cbd5" stroke-width="1.25"/><path d="M16,440.90 H43" stroke="#aab2bd" stroke-width="1.1"/><path d="M16,440.90 H31.3" stroke="#c4cbd5" stroke-width="1.25"/><path d="M16,445.05 H31.3" stroke="#aab2bd" stroke-width="1.1"/><path d="M16,445.05 H31.3" stroke="#c4cbd5" stroke-width="1.25"/><path d="M16,449.20 H31.3" stroke="#aab2bd" stroke-width="1.1"/><path d="M16,449.20 H31.3" stroke="#c4cbd5" stroke-width="1.25"/><path d="M16,453.35 H31.3" stroke="#aab2bd" stroke-width="1.1"/><path d="M16,453.35 H31.3" stroke="#c4cbd5" stroke-width="1.25"/><path d="M16,457.50 H31.3" stroke="#aab2bd" stroke-width="1.1"/><path d="M16,457.50 H31.3" stroke="#c4cbd5" stroke-width="1.25"/><path d="M16,461.65 H39.5" stroke="#aab2bd" stroke-width="1.1"/><path d="M16,461.65 H31.3" stroke="#c4cbd5" stroke-width="1.25"/><path d="M16,465.80 H31.3" stroke="#aab2bd" stroke-width="1.1"/><path d="M16,465.80 H31.3" stroke="#c4cbd5" stroke-width="1.25"/><path d="M16,469.95 H31.3" stroke="#aab2bd" stroke-width="1.1"/><path d="M16,469.95 H31.3" stroke="#c4cbd5" stroke-width="1.25"/><path d="M16,474.10 H31.3" stroke="#aab2bd" stroke-width="1.1"/><path d="M16,474.10 H31.3" stroke="#c4cbd5" stroke-width="1.25"/><path d="M16,478.25 H31.3" stroke="#aab2bd" stroke-width="1.1"/><path d="M16,478.25 H31.3" stroke="#c4cbd5" stroke-width="1.25"/><path d="M16,482.40 H43" stroke="#aab2bd" stroke-width="1.1"/><path d="M16,482.40 H31.3" stroke="#c4cbd5" stroke-width="1.25"/><path d="M16,486.55 H31.3" stroke="#aab2bd" stroke-width="1.1"/><path d="M16,486.55 H31.3" stroke="#c4cbd5" stroke-width="1.25"/><path d="M16,490.70 H31.3" stroke="#aab2bd" stroke-width="1.1"/><path d="M16,490.70 H31.3" stroke="#c4cbd5" stroke-width="1.25"/><path d="M16,494.85 H31.3" stroke="#aab2bd" stroke-width="1.1"/><path d="M16,494.85 H31.3" stroke="#c4cbd5" stroke-width="1.25"/><path d="M16,499.00 H31.3" stroke="#aab2bd" stroke-width="1.1"/><path d="M16,499.00 H31.3" stroke="#c4cbd5" stroke-width="1.25"/><path d="M16,503.15 H39.5" stroke="#aab2bd" stroke-width="1.1"/><path d="M16,503.15 H31.3" stroke="#c4cbd5" stroke-width="1.25"/><path d="M16,507.30 H31.3" stroke="#aab2bd" stroke-width="1.1"/><path d="M16,507.30 H31.3" stroke="#c4cbd5" stroke-width="1.25"/><path d="M16,511.45 H31.3" stroke="#aab2bd" stroke-width="1.1"/><path d="M16,511.45 H31.3" stroke="#c4cbd5" stroke-width="1.25"/><path d="M16,515.60 H31.3" stroke="#aab2bd" stroke-width="1.1"/><path d="M16,515.60 H31.3" stroke="#c4cbd5" stroke-width="1.25"/><path d="M16,519.75 H31.3" stroke="#aab2bd" stroke-width="1.1"/><path d="M16,519.75 H31.3" stroke="#c4cbd5" stroke-width="1.25"/><path d="M16,523.90 H43" stroke="#aab2bd" stroke-width="1.1"/><path d="M16,523.90 H31.3" stroke="#c4cbd5" stroke-width="1.25"/><path d="M16,528.05 H31.3" stroke="#aab2bd" stroke-width="1.1"/><path d="M16,528.05 H31.3" stroke="#c4cbd5" stroke-width="1.25"/><path d="M16,532.20 H31.3" stroke="#aab2bd" stroke-width="1.1"/><path d="M16,532.20 H31.3" stroke="#c4cbd5" stroke-width="1.25"/><path d="M16,536.35 H31.3" stroke="#aab2bd" stroke-width="1.1"/><path d="M16,536.35 H31.3" stroke="#c4cbd5" stroke-width="1.25"/><path d="M16,540.50 H31.3" stroke="#aab2bd" stroke-width="1.1"/><path d="M16,540.50 H31.3" stroke="#c4cbd5" stroke-width="1.25"/><path d="M16,544.65 H39.5" stroke="#aab2bd" stroke-width="1.1"/><path d="M16,544.65 H31.3" stroke="#c4cbd5" stroke-width="1.25"/><path d="M16,548.80 H31.3" stroke="#aab2bd" stroke-width="1.1"/><path d="M16,548.80 H31.3" stroke="#c4cbd5" stroke-width="1.25"/><path d="M16,552.95 H31.3" stroke="#aab2bd" stroke-width="1.1"/><path d="M16,552.95 H31.3" stroke="#c4cbd5" stroke-width="1.25"/><path d="M16,557.10 H31.3" stroke="#aab2bd" stroke-width="1.1"/><path d="M16,557.10 H31.3" stroke="#c4cbd5" stroke-width="1.25"/><path d="M16,561.25 H31.3" stroke="#aab2bd" stroke-width="1.1"/><path d="M16,561.25 H31.3" stroke="#c4cbd5" stroke-width="1.25"/><path d="M16,565.40 H43" stroke="#aab2bd" stroke-width="1.1"/><path d="M16,565.40 H31.3" stroke="#c4cbd5" stroke-width="1.25"/><path d="M16,569.55 H31.3" stroke="#aab2bd" stroke-width="1.1"/><path d="M16,569.55 H31.3" stroke="#c4cbd5" stroke-width="1.25"/><text transform="translate(53.4,407.20) rotate(-90) scale(0.88,1)" font-size="17.4" text-anchor="middle" fill="#c4ccd8" stroke="#c4ccd8" stroke-width="0.5">7</text><text transform="translate(53.4,449.00) rotate(-90) scale(0.88,1)" font-size="17.4" text-anchor="middle" fill="#c4ccd8" stroke="#c4ccd8" stroke-width="0.5">6</text><text transform="translate(53.4,489.20) rotate(-90) scale(0.88,1)" font-size="17.4" text-anchor="middle" fill="#c4ccd8" stroke="#c4ccd8" stroke-width="0.5">5</text><text transform="translate(53.4,531.50) rotate(-90) scale(0.88,1)" font-size="17.4" text-anchor="middle" fill="#c4ccd8" stroke="#c4ccd8" stroke-width="0.5">4</text><text transform="translate(53.4,573.20) rotate(-90) scale(0.88,1)" font-size="17.4" text-anchor="middle" fill="#c4ccd8" stroke="#c4ccd8" stroke-width="0.5">3</text></g></g>
<g><clipPath id="cp112"><rect x="112.3" y="406" width="77.39999999999999" height="164.0"/></clipPath><g clip-path="url(#cp112)"><rect x="112.3" y="406" width="77.39999999999999" height="164.0" fill="#22252b"/><path d="M112.3,404.25 H127.6" stroke="#aab2bd" stroke-width="1.1"/><path d="M112.3,404.25 H127.6" stroke="#c4cbd5" stroke-width="1.25"/><path d="M112.3,408.40 H127.6" stroke="#aab2bd" stroke-width="1.1"/><path d="M112.3,408.40 H127.6" stroke="#c4cbd5" stroke-width="1.25"/><path d="M112.3,412.55 H127.6" stroke="#aab2bd" stroke-width="1.1"/><path d="M112.3,412.55 H127.6" stroke="#c4cbd5" stroke-width="1.25"/><path d="M112.3,416.70 H127.6" stroke="#aab2bd" stroke-width="1.1"/><path d="M112.3,416.70 H127.6" stroke="#c4cbd5" stroke-width="1.25"/><path d="M112.3,420.85 H135.8" stroke="#aab2bd" stroke-width="1.1"/><path d="M112.3,420.85 H127.6" stroke="#c4cbd5" stroke-width="1.25"/><path d="M112.3,425.00 H127.6" stroke="#aab2bd" stroke-width="1.1"/><path d="M112.3,425.00 H127.6" stroke="#c4cbd5" stroke-width="1.25"/><path d="M112.3,429.15 H127.6" stroke="#aab2bd" stroke-width="1.1"/><path d="M112.3,429.15 H127.6" stroke="#c4cbd5" stroke-width="1.25"/><path d="M112.3,433.30 H127.6" stroke="#aab2bd" stroke-width="1.1"/><path d="M112.3,433.30 H127.6" stroke="#c4cbd5" stroke-width="1.25"/><path d="M112.3,437.45 H127.6" stroke="#aab2bd" stroke-width="1.1"/><path d="M112.3,437.45 H127.6" stroke="#c4cbd5" stroke-width="1.25"/><path d="M112.3,441.60 H139.3" stroke="#aab2bd" stroke-width="1.1"/><path d="M112.3,441.60 H127.6" stroke="#c4cbd5" stroke-width="1.25"/><path d="M112.3,445.75 H127.6" stroke="#aab2bd" stroke-width="1.1"/><path d="M112.3,445.75 H127.6" stroke="#c4cbd5" stroke-width="1.25"/><path d="M112.3,449.90 H127.6" stroke="#aab2bd" stroke-width="1.1"/><path d="M112.3,449.90 H127.6" stroke="#c4cbd5" stroke-width="1.25"/><path d="M112.3,454.05 H127.6" stroke="#aab2bd" stroke-width="1.1"/><path d="M112.3,454.05 H127.6" stroke="#c4cbd5" stroke-width="1.25"/><path d="M112.3,458.20 H127.6" stroke="#aab2bd" stroke-width="1.1"/><path d="M112.3,458.20 H127.6" stroke="#c4cbd5" stroke-width="1.25"/><path d="M112.3,462.35 H135.8" stroke="#aab2bd" stroke-width="1.1"/><path d="M112.3,462.35 H127.6" stroke="#c4cbd5" stroke-width="1.25"/><path d="M112.3,466.50 H127.6" stroke="#aab2bd" stroke-width="1.1"/><path d="M112.3,466.50 H127.6" stroke="#c4cbd5" stroke-width="1.25"/><path d="M112.3,470.65 H127.6" stroke="#aab2bd" stroke-width="1.1"/><path d="M112.3,470.65 H127.6" stroke="#c4cbd5" stroke-width="1.25"/><path d="M112.3,474.80 H127.6" stroke="#aab2bd" stroke-width="1.1"/><path d="M112.3,474.80 H127.6" stroke="#c4cbd5" stroke-width="1.25"/><path d="M112.3,478.95 H127.6" stroke="#aab2bd" stroke-width="1.1"/><path d="M112.3,478.95 H127.6" stroke="#c4cbd5" stroke-width="1.25"/><path d="M112.3,483.10 H139.3" stroke="#aab2bd" stroke-width="1.1"/><path d="M112.3,483.10 H127.6" stroke="#c4cbd5" stroke-width="1.25"/><path d="M112.3,487.25 H127.6" stroke="#aab2bd" stroke-width="1.1"/><path d="M112.3,487.25 H127.6" stroke="#c4cbd5" stroke-width="1.25"/><path d="M112.3,491.40 H127.6" stroke="#aab2bd" stroke-width="1.1"/><path d="M112.3,491.40 H127.6" stroke="#c4cbd5" stroke-width="1.25"/><path d="M112.3,495.55 H127.6" stroke="#aab2bd" stroke-width="1.1"/><path d="M112.3,495.55 H127.6" stroke="#c4cbd5" stroke-width="1.25"/><path d="M112.3,499.70 H127.6" stroke="#aab2bd" stroke-width="1.1"/><path d="M112.3,499.70 H127.6" stroke="#c4cbd5" stroke-width="1.25"/><path d="M112.3,503.85 H135.8" stroke="#aab2bd" stroke-width="1.1"/><path d="M112.3,503.85 H127.6" stroke="#c4cbd5" stroke-width="1.25"/><path d="M112.3,508.00 H127.6" stroke="#aab2bd" stroke-width="1.1"/><path d="M112.3,508.00 H127.6" stroke="#c4cbd5" stroke-width="1.25"/><path d="M112.3,512.15 H127.6" stroke="#aab2bd" stroke-width="1.1"/><path d="M112.3,512.15 H127.6" stroke="#c4cbd5" stroke-width="1.25"/><path d="M112.3,516.30 H127.6" stroke="#aab2bd" stroke-width="1.1"/><path d="M112.3,516.30 H127.6" stroke="#c4cbd5" stroke-width="1.25"/><path d="M112.3,520.45 H127.6" stroke="#aab2bd" stroke-width="1.1"/><path d="M112.3,520.45 H127.6" stroke="#c4cbd5" stroke-width="1.25"/><path d="M112.3,524.60 H139.3" stroke="#aab2bd" stroke-width="1.1"/><path d="M112.3,524.60 H127.6" stroke="#c4cbd5" stroke-width="1.25"/><path d="M112.3,528.75 H127.6" stroke="#aab2bd" stroke-width="1.1"/><path d="M112.3,528.75 H127.6" stroke="#c4cbd5" stroke-width="1.25"/><path d="M112.3,532.90 H127.6" stroke="#aab2bd" stroke-width="1.1"/><path d="M112.3,532.90 H127.6" stroke="#c4cbd5" stroke-width="1.25"/><path d="M112.3,537.05 H127.6" stroke="#aab2bd" stroke-width="1.1"/><path d="M112.3,537.05 H127.6" stroke="#c4cbd5" stroke-width="1.25"/><path d="M112.3,541.20 H127.6" stroke="#aab2bd" stroke-width="1.1"/><path d="M112.3,541.20 H127.6" stroke="#c4cbd5" stroke-width="1.25"/><path d="M112.3,545.35 H135.8" stroke="#aab2bd" stroke-width="1.1"/><path d="M112.3,545.35 H127.6" stroke="#c4cbd5" stroke-width="1.25"/><path d="M112.3,549.50 H127.6" stroke="#aab2bd" stroke-width="1.1"/><path d="M112.3,549.50 H127.6" stroke="#c4cbd5" stroke-width="1.25"/><path d="M112.3,553.65 H127.6" stroke="#aab2bd" stroke-width="1.1"/><path d="M112.3,553.65 H127.6" stroke="#c4cbd5" stroke-width="1.25"/><path d="M112.3,557.80 H127.6" stroke="#aab2bd" stroke-width="1.1"/><path d="M112.3,557.80 H127.6" stroke="#c4cbd5" stroke-width="1.25"/><path d="M112.3,561.95 H127.6" stroke="#aab2bd" stroke-width="1.1"/><path d="M112.3,561.95 H127.6" stroke="#c4cbd5" stroke-width="1.25"/><path d="M112.3,566.10 H139.3" stroke="#aab2bd" stroke-width="1.1"/><path d="M112.3,566.10 H127.6" stroke="#c4cbd5" stroke-width="1.25"/><path d="M112.3,570.25 H127.6" stroke="#aab2bd" stroke-width="1.1"/><path d="M112.3,570.25 H127.6" stroke="#c4cbd5" stroke-width="1.25"/><text transform="translate(149.4,407.90) rotate(-90) scale(0.88,1)" font-size="17.4" text-anchor="middle" fill="#c4ccd8" stroke="#c4ccd8" stroke-width="0.5">7</text><text transform="translate(149.4,449.70) rotate(-90) scale(0.88,1)" font-size="17.4" text-anchor="middle" fill="#c4ccd8" stroke="#c4ccd8" stroke-width="0.5">6</text><text transform="translate(149.4,489.90) rotate(-90) scale(0.88,1)" font-size="17.4" text-anchor="middle" fill="#c4ccd8" stroke="#c4ccd8" stroke-width="0.5">5</text><text transform="translate(149.4,532.20) rotate(-90) scale(0.88,1)" font-size="17.4" text-anchor="middle" fill="#c4ccd8" stroke="#c4ccd8" stroke-width="0.5">4</text><text transform="translate(149.4,573.90) rotate(-90) scale(0.88,1)" font-size="17.4" text-anchor="middle" fill="#c4ccd8" stroke="#c4ccd8" stroke-width="0.5">3</text></g></g>
<g><clipPath id="cp199"><rect x="199.4" y="406" width="83.49999999999997" height="164.0"/></clipPath><g clip-path="url(#cp199)"><rect x="199.4" y="406" width="83.49999999999997" height="164.0" fill="#22252b"/><path d="M199.4,407.30 H214.70000000000002" stroke="#aab2bd" stroke-width="1.1"/><path d="M199.4,407.30 H214.70000000000002" stroke="#c4cbd5" stroke-width="1.25"/><path d="M199.4,411.45 H214.70000000000002" stroke="#aab2bd" stroke-width="1.1"/><path d="M199.4,411.45 H214.70000000000002" stroke="#c4cbd5" stroke-width="1.25"/><path d="M199.4,415.60 H214.70000000000002" stroke="#aab2bd" stroke-width="1.1"/><path d="M199.4,415.60 H214.70000000000002" stroke="#c4cbd5" stroke-width="1.25"/><path d="M199.4,419.75 H222.9" stroke="#aab2bd" stroke-width="1.1"/><path d="M199.4,419.75 H214.70000000000002" stroke="#c4cbd5" stroke-width="1.25"/><path d="M199.4,423.90 H214.70000000000002" stroke="#aab2bd" stroke-width="1.1"/><path d="M199.4,423.90 H214.70000000000002" stroke="#c4cbd5" stroke-width="1.25"/><path d="M199.4,428.05 H214.70000000000002" stroke="#aab2bd" stroke-width="1.1"/><path d="M199.4,428.05 H214.70000000000002" stroke="#c4cbd5" stroke-width="1.25"/><path d="M199.4,432.20 H214.70000000000002" stroke="#aab2bd" stroke-width="1.1"/><path d="M199.4,432.20 H214.70000000000002" stroke="#c4cbd5" stroke-width="1.25"/><path d="M199.4,436.35 H214.70000000000002" stroke="#aab2bd" stroke-width="1.1"/><path d="M199.4,436.35 H214.70000000000002" stroke="#c4cbd5" stroke-width="1.25"/><path d="M199.4,440.50 H226.4" stroke="#aab2bd" stroke-width="1.1"/><path d="M199.4,440.50 H214.70000000000002" stroke="#c4cbd5" stroke-width="1.25"/><path d="M199.4,444.65 H214.70000000000002" stroke="#aab2bd" stroke-width="1.1"/><path d="M199.4,444.65 H214.70000000000002" stroke="#c4cbd5" stroke-width="1.25"/><path d="M199.4,448.80 H214.70000000000002" stroke="#aab2bd" stroke-width="1.1"/><path d="M199.4,448.80 H214.70000000000002" stroke="#c4cbd5" stroke-width="1.25"/><path d="M199.4,452.95 H214.70000000000002" stroke="#aab2bd" stroke-width="1.1"/><path d="M199.4,452.95 H214.70000000000002" stroke="#c4cbd5" stroke-width="1.25"/><path d="M199.4,457.10 H214.70000000000002" stroke="#aab2bd" stroke-width="1.1"/><path d="M199.4,457.10 H214.70000000000002" stroke="#c4cbd5" stroke-width="1.25"/><path d="M199.4,461.25 H222.9" stroke="#aab2bd" stroke-width="1.1"/><path d="M199.4,461.25 H214.70000000000002" stroke="#c4cbd5" stroke-width="1.25"/><path d="M199.4,465.40 H214.70000000000002" stroke="#aab2bd" stroke-width="1.1"/><path d="M199.4,465.40 H214.70000000000002" stroke="#c4cbd5" stroke-width="1.25"/><path d="M199.4,469.55 H214.70000000000002" stroke="#aab2bd" stroke-width="1.1"/><path d="M199.4,469.55 H214.70000000000002" stroke="#c4cbd5" stroke-width="1.25"/><path d="M199.4,473.70 H214.70000000000002" stroke="#aab2bd" stroke-width="1.1"/><path d="M199.4,473.70 H214.70000000000002" stroke="#c4cbd5" stroke-width="1.25"/><path d="M199.4,477.85 H214.70000000000002" stroke="#aab2bd" stroke-width="1.1"/><path d="M199.4,477.85 H214.70000000000002" stroke="#c4cbd5" stroke-width="1.25"/><path d="M199.4,482.00 H226.4" stroke="#aab2bd" stroke-width="1.1"/><path d="M199.4,482.00 H214.70000000000002" stroke="#c4cbd5" stroke-width="1.25"/><path d="M199.4,486.15 H214.70000000000002" stroke="#aab2bd" stroke-width="1.1"/><path d="M199.4,486.15 H214.70000000000002" stroke="#c4cbd5" stroke-width="1.25"/><path d="M199.4,490.30 H214.70000000000002" stroke="#aab2bd" stroke-width="1.1"/><path d="M199.4,490.30 H214.70000000000002" stroke="#c4cbd5" stroke-width="1.25"/><path d="M199.4,494.45 H214.70000000000002" stroke="#aab2bd" stroke-width="1.1"/><path d="M199.4,494.45 H214.70000000000002" stroke="#c4cbd5" stroke-width="1.25"/><path d="M199.4,498.60 H214.70000000000002" stroke="#aab2bd" stroke-width="1.1"/><path d="M199.4,498.60 H214.70000000000002" stroke="#c4cbd5" stroke-width="1.25"/><path d="M199.4,502.75 H222.9" stroke="#aab2bd" stroke-width="1.1"/><path d="M199.4,502.75 H214.70000000000002" stroke="#c4cbd5" stroke-width="1.25"/><path d="M199.4,506.90 H214.70000000000002" stroke="#aab2bd" stroke-width="1.1"/><path d="M199.4,506.90 H214.70000000000002" stroke="#c4cbd5" stroke-width="1.25"/><path d="M199.4,511.05 H214.70000000000002" stroke="#aab2bd" stroke-width="1.1"/><path d="M199.4,511.05 H214.70000000000002" stroke="#c4cbd5" stroke-width="1.25"/><path d="M199.4,515.20 H214.70000000000002" stroke="#aab2bd" stroke-width="1.1"/><path d="M199.4,515.20 H214.70000000000002" stroke="#c4cbd5" stroke-width="1.25"/><path d="M199.4,519.35 H214.70000000000002" stroke="#aab2bd" stroke-width="1.1"/><path d="M199.4,519.35 H214.70000000000002" stroke="#c4cbd5" stroke-width="1.25"/><path d="M199.4,523.50 H226.4" stroke="#aab2bd" stroke-width="1.1"/><path d="M199.4,523.50 H214.70000000000002" stroke="#c4cbd5" stroke-width="1.25"/><path d="M199.4,527.65 H214.70000000000002" stroke="#aab2bd" stroke-width="1.1"/><path d="M199.4,527.65 H214.70000000000002" stroke="#c4cbd5" stroke-width="1.25"/><path d="M199.4,531.80 H214.70000000000002" stroke="#aab2bd" stroke-width="1.1"/><path d="M199.4,531.80 H214.70000000000002" stroke="#c4cbd5" stroke-width="1.25"/><path d="M199.4,535.95 H214.70000000000002" stroke="#aab2bd" stroke-width="1.1"/><path d="M199.4,535.95 H214.70000000000002" stroke="#c4cbd5" stroke-width="1.25"/><path d="M199.4,540.10 H214.70000000000002" stroke="#aab2bd" stroke-width="1.1"/><path d="M199.4,540.10 H214.70000000000002" stroke="#c4cbd5" stroke-width="1.25"/><path d="M199.4,544.25 H222.9" stroke="#aab2bd" stroke-width="1.1"/><path d="M199.4,544.25 H214.70000000000002" stroke="#c4cbd5" stroke-width="1.25"/><path d="M199.4,548.40 H214.70000000000002" stroke="#aab2bd" stroke-width="1.1"/><path d="M199.4,548.40 H214.70000000000002" stroke="#c4cbd5" stroke-width="1.25"/><path d="M199.4,552.55 H214.70000000000002" stroke="#aab2bd" stroke-width="1.1"/><path d="M199.4,552.55 H214.70000000000002" stroke="#c4cbd5" stroke-width="1.25"/><path d="M199.4,556.70 H214.70000000000002" stroke="#aab2bd" stroke-width="1.1"/><path d="M199.4,556.70 H214.70000000000002" stroke="#c4cbd5" stroke-width="1.25"/><path d="M199.4,560.85 H214.70000000000002" stroke="#aab2bd" stroke-width="1.1"/><path d="M199.4,560.85 H214.70000000000002" stroke="#c4cbd5" stroke-width="1.25"/><path d="M199.4,565.00 H226.4" stroke="#aab2bd" stroke-width="1.1"/><path d="M199.4,565.00 H214.70000000000002" stroke="#c4cbd5" stroke-width="1.25"/><path d="M199.4,569.15 H214.70000000000002" stroke="#aab2bd" stroke-width="1.1"/><path d="M199.4,569.15 H214.70000000000002" stroke="#c4cbd5" stroke-width="1.25"/><text transform="translate(235.2,406.80) rotate(-90) scale(0.88,1)" font-size="17.4" text-anchor="middle" fill="#c4ccd8" stroke="#c4ccd8" stroke-width="0.5">7</text><text transform="translate(235.2,448.60) rotate(-90) scale(0.88,1)" font-size="17.4" text-anchor="middle" fill="#c4ccd8" stroke="#c4ccd8" stroke-width="0.5">6</text><text transform="translate(235.2,488.80) rotate(-90) scale(0.88,1)" font-size="17.4" text-anchor="middle" fill="#c4ccd8" stroke="#c4ccd8" stroke-width="0.5">5</text><text transform="translate(235.2,531.10) rotate(-90) scale(0.88,1)" font-size="17.4" text-anchor="middle" fill="#c4ccd8" stroke="#c4ccd8" stroke-width="0.5">4</text><text transform="translate(235.2,572.80) rotate(-90) scale(0.88,1)" font-size="17.4" text-anchor="middle" fill="#c4ccd8" stroke="#c4ccd8" stroke-width="0.5">3</text></g></g>
<g><clipPath id="cp292"><rect x="292" y="406" width="93.30000000000001" height="164.0"/></clipPath><g clip-path="url(#cp292)"><rect x="292" y="406" width="93.30000000000001" height="164.0" fill="#22252b"/><path d="M292,405.75 H307.3" stroke="#aab2bd" stroke-width="1.1"/><path d="M292,405.75 H307.3" stroke="#c4cbd5" stroke-width="1.25"/><path d="M292,409.90 H307.3" stroke="#aab2bd" stroke-width="1.1"/><path d="M292,409.90 H307.3" stroke="#c4cbd5" stroke-width="1.25"/><path d="M292,414.05 H307.3" stroke="#aab2bd" stroke-width="1.1"/><path d="M292,414.05 H307.3" stroke="#c4cbd5" stroke-width="1.25"/><path d="M292,418.20 H307.3" stroke="#aab2bd" stroke-width="1.1"/><path d="M292,418.20 H307.3" stroke="#c4cbd5" stroke-width="1.25"/><path d="M292,422.35 H315.5" stroke="#aab2bd" stroke-width="1.1"/><path d="M292,422.35 H307.3" stroke="#c4cbd5" stroke-width="1.25"/><path d="M292,426.50 H307.3" stroke="#aab2bd" stroke-width="1.1"/><path d="M292,426.50 H307.3" stroke="#c4cbd5" stroke-width="1.25"/><path d="M292,430.65 H307.3" stroke="#aab2bd" stroke-width="1.1"/><path d="M292,430.65 H307.3" stroke="#c4cbd5" stroke-width="1.25"/><path d="M292,434.80 H307.3" stroke="#aab2bd" stroke-width="1.1"/><path d="M292,434.80 H307.3" stroke="#c4cbd5" stroke-width="1.25"/><path d="M292,438.95 H307.3" stroke="#aab2bd" stroke-width="1.1"/><path d="M292,438.95 H307.3" stroke="#c4cbd5" stroke-width="1.25"/><path d="M292,443.10 H319" stroke="#aab2bd" stroke-width="1.1"/><path d="M292,443.10 H307.3" stroke="#c4cbd5" stroke-width="1.25"/><path d="M292,447.25 H307.3" stroke="#aab2bd" stroke-width="1.1"/><path d="M292,447.25 H307.3" stroke="#c4cbd5" stroke-width="1.25"/><path d="M292,451.40 H307.3" stroke="#aab2bd" stroke-width="1.1"/><path d="M292,451.40 H307.3" stroke="#c4cbd5" stroke-width="1.25"/><path d="M292,455.55 H307.3" stroke="#aab2bd" stroke-width="1.1"/><path d="M292,455.55 H307.3" stroke="#c4cbd5" stroke-width="1.25"/><path d="M292,459.70 H307.3" stroke="#aab2bd" stroke-width="1.1"/><path d="M292,459.70 H307.3" stroke="#c4cbd5" stroke-width="1.25"/><path d="M292,463.85 H315.5" stroke="#aab2bd" stroke-width="1.1"/><path d="M292,463.85 H307.3" stroke="#c4cbd5" stroke-width="1.25"/><path d="M292,468.00 H307.3" stroke="#aab2bd" stroke-width="1.1"/><path d="M292,468.00 H307.3" stroke="#c4cbd5" stroke-width="1.25"/><path d="M292,472.15 H307.3" stroke="#aab2bd" stroke-width="1.1"/><path d="M292,472.15 H307.3" stroke="#c4cbd5" stroke-width="1.25"/><path d="M292,476.30 H307.3" stroke="#aab2bd" stroke-width="1.1"/><path d="M292,476.30 H307.3" stroke="#c4cbd5" stroke-width="1.25"/><path d="M292,480.45 H307.3" stroke="#aab2bd" stroke-width="1.1"/><path d="M292,480.45 H307.3" stroke="#c4cbd5" stroke-width="1.25"/><path d="M292,484.60 H319" stroke="#aab2bd" stroke-width="1.1"/><path d="M292,484.60 H307.3" stroke="#c4cbd5" stroke-width="1.25"/><path d="M292,488.75 H307.3" stroke="#aab2bd" stroke-width="1.1"/><path d="M292,488.75 H307.3" stroke="#c4cbd5" stroke-width="1.25"/><path d="M292,492.90 H307.3" stroke="#aab2bd" stroke-width="1.1"/><path d="M292,492.90 H307.3" stroke="#c4cbd5" stroke-width="1.25"/><path d="M292,497.05 H307.3" stroke="#aab2bd" stroke-width="1.1"/><path d="M292,497.05 H307.3" stroke="#c4cbd5" stroke-width="1.25"/><path d="M292,501.20 H307.3" stroke="#aab2bd" stroke-width="1.1"/><path d="M292,501.20 H307.3" stroke="#c4cbd5" stroke-width="1.25"/><path d="M292,505.35 H315.5" stroke="#aab2bd" stroke-width="1.1"/><path d="M292,505.35 H307.3" stroke="#c4cbd5" stroke-width="1.25"/><path d="M292,509.50 H307.3" stroke="#aab2bd" stroke-width="1.1"/><path d="M292,509.50 H307.3" stroke="#c4cbd5" stroke-width="1.25"/><path d="M292,513.65 H307.3" stroke="#aab2bd" stroke-width="1.1"/><path d="M292,513.65 H307.3" stroke="#c4cbd5" stroke-width="1.25"/><path d="M292,517.80 H307.3" stroke="#aab2bd" stroke-width="1.1"/><path d="M292,517.80 H307.3" stroke="#c4cbd5" stroke-width="1.25"/><path d="M292,521.95 H307.3" stroke="#aab2bd" stroke-width="1.1"/><path d="M292,521.95 H307.3" stroke="#c4cbd5" stroke-width="1.25"/><path d="M292,526.10 H319" stroke="#aab2bd" stroke-width="1.1"/><path d="M292,526.10 H307.3" stroke="#c4cbd5" stroke-width="1.25"/><path d="M292,530.25 H307.3" stroke="#aab2bd" stroke-width="1.1"/><path d="M292,530.25 H307.3" stroke="#c4cbd5" stroke-width="1.25"/><path d="M292,534.40 H307.3" stroke="#aab2bd" stroke-width="1.1"/><path d="M292,534.40 H307.3" stroke="#c4cbd5" stroke-width="1.25"/><path d="M292,538.55 H307.3" stroke="#aab2bd" stroke-width="1.1"/><path d="M292,538.55 H307.3" stroke="#c4cbd5" stroke-width="1.25"/><path d="M292,542.70 H307.3" stroke="#aab2bd" stroke-width="1.1"/><path d="M292,542.70 H307.3" stroke="#c4cbd5" stroke-width="1.25"/><path d="M292,546.85 H315.5" stroke="#aab2bd" stroke-width="1.1"/><path d="M292,546.85 H307.3" stroke="#c4cbd5" stroke-width="1.25"/><path d="M292,551.00 H307.3" stroke="#aab2bd" stroke-width="1.1"/><path d="M292,551.00 H307.3" stroke="#c4cbd5" stroke-width="1.25"/><path d="M292,555.15 H307.3" stroke="#aab2bd" stroke-width="1.1"/><path d="M292,555.15 H307.3" stroke="#c4cbd5" stroke-width="1.25"/><path d="M292,559.30 H307.3" stroke="#aab2bd" stroke-width="1.1"/><path d="M292,559.30 H307.3" stroke="#c4cbd5" stroke-width="1.25"/><path d="M292,563.45 H307.3" stroke="#aab2bd" stroke-width="1.1"/><path d="M292,563.45 H307.3" stroke="#c4cbd5" stroke-width="1.25"/><path d="M292,567.60 H319" stroke="#aab2bd" stroke-width="1.1"/><path d="M292,567.60 H307.3" stroke="#c4cbd5" stroke-width="1.25"/><path d="M292,571.75 H307.3" stroke="#aab2bd" stroke-width="1.1"/><path d="M292,571.75 H307.3" stroke="#c4cbd5" stroke-width="1.25"/><text transform="translate(329.0,409.40) rotate(-90) scale(0.88,1)" font-size="17.4" text-anchor="middle" fill="#c4ccd8" stroke="#c4ccd8" stroke-width="0.5">7</text><text transform="translate(329.0,451.20) rotate(-90) scale(0.88,1)" font-size="17.4" text-anchor="middle" fill="#c4ccd8" stroke="#c4ccd8" stroke-width="0.5">6</text><text transform="translate(329.0,491.40) rotate(-90) scale(0.88,1)" font-size="17.4" text-anchor="middle" fill="#c4ccd8" stroke="#c4ccd8" stroke-width="0.5">5</text><text transform="translate(329.0,533.70) rotate(-90) scale(0.88,1)" font-size="17.4" text-anchor="middle" fill="#c4ccd8" stroke="#c4ccd8" stroke-width="0.5">4</text><text transform="translate(329.0,575.40) rotate(-90) scale(0.88,1)" font-size="17.4" text-anchor="middle" fill="#c4ccd8" stroke="#c4ccd8" stroke-width="0.5">3</text></g></g>
<g filter="url(#soft)"><path d="M69.9,444.2 L71.5,449" stroke="#d6a6ae" stroke-width="2.3" stroke-linecap="round"/><path d="M79,444.6 L74.5,448.5" stroke="#d8c4ca" stroke-width="2.0" stroke-linecap="round"/><path d="M66,449.5 C67,447.5 70,447 73,448 L79,448.5 C80,449.5 80.5,452 81,456 C83,453 86.5,450.5 90.9,449 C93,448 95.5,447.8 97.6,448.8 L97.8,452.5 C94,453.5 91,454.5 89,456 C88,458 87.6,461 87.4,465 L86,493 L85,521 C84.5,524.5 78.5,524.5 78,521 L77.1,493 L77.1,465 C76.8,460 75,456 72.5,454 C70,454.5 67,453.5 66,451.5 Z" fill="#bcc3cc" stroke="#c9d0d8" stroke-width="0.7"/></g>
<g filter="url(#soft)"><ellipse cx="69.2" cy="450.6" rx="3.6" ry="2.4" fill="#c8a9b2" opacity="0.75"/><ellipse cx="96" cy="450.6" rx="1.6" ry="1.6" fill="#c8a9b2" opacity="0.6"/></g>
<g filter="url(#soft)"><path d="M174,439 L168.5,449" stroke="#d6ccd0" stroke-width="2.2" stroke-linecap="round"/><path d="M177.5,442 L172,452" stroke="#d6ccd0" stroke-width="2.2" stroke-linecap="round"/><path d="M167.5,454 L168.5,470 L169.5,500 L170,519.5 L175,518.2 L180,519.5 L180,500 L180.3,470 C181,462 182.5,455 185.5,450.5 L184.8,448.5 C181,450 177.5,453.5 175,458.5 C173.5,456 171,453.5 167.5,454 Z" fill="#bcc3cc" stroke="#c9d0d8" stroke-width="0.7"/><circle cx="172" cy="466" r="0.9" fill="#e0343c" opacity="0.85"/><circle cx="174" cy="478" r="0.7" fill="#e0343c" opacity="0.85"/><circle cx="175" cy="493" r="0.6" fill="#e0343c" opacity="0.85"/><circle cx="176" cy="510" r="1.1" fill="#e0343c" opacity="0.85"/><circle cx="170" cy="461" r="1.2" fill="#e0343c" opacity="0.85"/><circle cx="173" cy="500" r="0.6" fill="#e0343c" opacity="0.85"/><circle cx="171" cy="515" r="0.8" fill="#e0343c" opacity="0.85"/><circle cx="177" cy="485" r="0.6" fill="#e0343c" opacity="0.85"/><circle cx="178" cy="463" r="0.8" fill="#e0343c" opacity="0.85"/></g>
<g filter="url(#soft)" stroke="#dc2a33" stroke-linecap="round" fill="none"><path d="M165,436.5 L165.8,455" stroke-width="3.2"/><path d="M163.5,438.5 L168.5,436.5 M166.5,434.8 L167.5,438" stroke-width="2.6"/><path d="M163.2,447 L171.2,449" stroke-width="3"/><path d="M165.5,453.2 L177.2,452.2" stroke-width="3"/><circle cx="167.5" cy="455.5" r="1.6" fill="#dc2a33" stroke="none"/></g>
<g filter="url(#soft)"><path d="M262.9,440.5 L258.9,449.2" stroke="#c8c8cc" stroke-width="2.2" stroke-linecap="round"/><path d="M270.3,440.5 L263.6,450.8" stroke="#c8c8cc" stroke-width="2.2" stroke-linecap="round"/><path d="M246.3,448 C249,446 253,446.5 256,447.5 C259,449 261.5,451.5 262.5,454 L266,456.3 C269,451 274,447 279,445.2 L280.5,450.8 C276,452.5 273,455 271.5,458.6 L272.1,470 L272.3,500 L273.4,522 C272,525 265,525 263.4,522 L262.4,500 L261.8,470 C261,463 259,460 256.5,457.5 C253,454.5 249,453.5 246.5,452.5 Z" fill="#bcc3cc" stroke="#c9d0d8" stroke-width="0.7"/><ellipse transform="translate(255.8,445.5) rotate(0)" rx="2.0" ry="2.2" fill="#e0343c" opacity="0.85"/><ellipse transform="translate(250.5,451.8) rotate(5)" rx="3" ry="1.3" fill="#e0343c" opacity="0.85"/><ellipse transform="translate(260,452.5) rotate(0)" rx="1.6" ry="1.2" fill="#e0343c" opacity="0.85"/><ellipse transform="translate(276.5,450) rotate(30)" rx="1.6" ry="2.2" fill="#e0343c" opacity="0.85"/><circle cx="270.3" cy="454.5" r="1.1" fill="#e0343c" opacity="0.85"/><ellipse transform="translate(270.3,458.5) rotate(0)" rx="1.0" ry="1.6" fill="#e0343c" opacity="0.85"/><circle cx="265" cy="479" r="0.7" fill="#e0343c" opacity="0.85"/><circle cx="264" cy="493" r="0.6" fill="#e0343c" opacity="0.85"/><ellipse transform="translate(264.5,511) rotate(0)" rx="1.3" ry="1.0" fill="#e0343c" opacity="0.85"/><ellipse transform="translate(268,516) rotate(0)" rx="1.4" ry="1.2" fill="#e0343c" opacity="0.85"/><ellipse transform="translate(271.5,513) rotate(0)" rx="1.0" ry="1.4" fill="#e0343c" opacity="0.85"/><circle cx="265" cy="519" r="0.9" fill="#e0343c" opacity="0.85"/></g>
<g filter="url(#soft)"><path d="M350.5,438 L351.4,447.5" stroke="#c8c8cc" stroke-width="2.5" stroke-linecap="round"/><path d="M343.9,447.5 L357.5,447.5 C359.5,449 361,451 363.2,454.5 C367,450 374,447 381.6,446.2 L381,450 C374,452 369,454.5 366.3,458 L367.9,470 L367.6,500 L368.5,529 L358.8,529 L359.1,500 L358.8,470 C358.5,462 357,458 353,456 L344,454.5 Z" fill="#bcc3cc" stroke="#c9d0d8" stroke-width="0.7"/><ellipse transform="translate(351,453) rotate(-4)" rx="5.5" ry="1.4" fill="#e0343c" opacity="0.85"/><ellipse transform="translate(345.5,448) rotate(0)" rx="1.5" ry="1.6" fill="#e0343c" opacity="0.85"/><ellipse transform="translate(356.5,449) rotate(0)" rx="1.5" ry="1.7" fill="#e0343c" opacity="0.85"/><ellipse transform="translate(358.6,461) rotate(0)" rx="1.0" ry="2.0" fill="#e0343c" opacity="0.85"/><ellipse transform="translate(376,449.5) rotate(-15)" rx="3" ry="1.3" fill="#e0343c" opacity="0.85"/><circle cx="360" cy="474" r="0.8" fill="#e0343c" opacity="0.85"/><circle cx="362" cy="487" r="0.6" fill="#e0343c" opacity="0.85"/><ellipse transform="translate(361,522) rotate(0)" rx="1.6" ry="1.0" fill="#e0343c" opacity="0.85"/><ellipse transform="translate(365,527) rotate(0)" rx="1.8" ry="1.0" fill="#e0343c" opacity="0.85"/><ellipse transform="translate(367.5,520) rotate(0)" rx="0.9" ry="1.6" fill="#e0343c" opacity="0.85"/></g>
<text transform="translate(408.5,381.2) scale(1.0,1.1)" font-size="20.5" text-anchor="start" font-weight="normal" fill="#000" >E</text>
<path d="M475.2,409.8 V512.0 H661" fill="none" stroke="#333" stroke-width="1.3"/>
<path d="M472.2,512.00 H475.2" stroke="#333" stroke-width="1.2"/>
<text x="469.2" y="516.8" font-size="13.3" text-anchor="end" font-weight="normal" fill="#222" >0</text>
<path d="M472.2,478.10 H475.2" stroke="#333" stroke-width="1.2"/>
<text x="469.2" y="482.90000000000003" font-size="13.3" text-anchor="end" font-weight="normal" fill="#222" >5</text>
<path d="M472.2,444.20 H475.2" stroke="#333" stroke-width="1.2"/>
<text x="469.2" y="449.0" font-size="13.3" text-anchor="end" font-weight="normal" fill="#222" >10</text>
<path d="M472.2,410.30 H475.2" stroke="#333" stroke-width="1.2"/>
<text x="469.2" y="415.1" font-size="13.3" text-anchor="end" font-weight="normal" fill="#222" >15</text>
<text transform="translate(446.3,457) rotate(-90)" font-size="12.4" text-anchor="middle" font-weight="bold" fill="#111">Plaque area (%)</text>
<path d="M546.9,512.0 V515.0" stroke="#333" stroke-width="1.2"/>
<path d="M589.3,512.0 V515.0" stroke="#333" stroke-width="1.2"/>
<path d="M632.6,512.0 V515.0" stroke="#333" stroke-width="1.2"/>
<circle cx="491.8" cy="512.0" r="2.6" fill="#5a70ae"/>
<circle cx="497.9" cy="512.0" r="2.6" fill="#5a70ae"/>
<circle cx="504.0" cy="512.0" r="2.6" fill="#5a70ae"/>
<circle cx="510.1" cy="512.0" r="2.6" fill="#5a70ae"/>
<circle cx="516.0" cy="512.0" r="2.6" fill="#5a70ae"/>
<path d="M533.4,512.0 V447.8 H560.3 V512.0" fill="#fff" stroke="#62b8d8" stroke-width="1.45"/>
<path d="M540.4,440.5 H553.4 M540.4,454.2 H553.4 M546.9,440.5 V454.2" stroke="#62b8d8" stroke-width="1.6"/>
<rect x="544.1" y="423.09999999999997" width="5.2" height="5.2" fill="#62b8d8"/>
<rect x="531.6" y="440.79999999999995" width="5.2" height="5.2" fill="#62b8d8"/>
<rect x="544.1" y="445.2" width="5.2" height="5.2" fill="#62b8d8"/>
<rect x="544.1" y="450.79999999999995" width="5.2" height="5.2" fill="#62b8d8"/>
<rect x="544.1" y="464.4" width="5.2" height="5.2" fill="#62b8d8"/>
<text x="546.9" y="412.2" font-size="12" text-anchor="middle" font-weight="bold" fill="#111" >#</text>
<path d="M575.4,512.0 V504.2 H603.5 V512.0" fill="#fff" stroke="#fcc660" stroke-width="1.45"/>
<path d="M582.8,499.8 H595.8 M582.8,507.9 H595.8 M589.3,499.8 V507.9" stroke="#fcc660" stroke-width="1.6"/>
<path d="M589.3,486.8 L592.0999999999999,491.5 L586.5,491.5 Z" fill="#fcc660"/>
<path d="M577.3,502.7 L580.0999999999999,507.4 L574.5,507.4 Z" fill="#fcc660"/>
<path d="M589.3,504.40000000000003 L592.0999999999999,509.1 L586.5,509.1 Z" fill="#fcc660"/>
<path d="M601.1,506.90000000000003 L603.9,511.6 L598.3000000000001,511.6 Z" fill="#fcc660"/>
<path d="M577.0,508.3 L579.8,513.0 L574.2,513.0 Z" fill="#fcc660"/>
<path d="M618.3,512.0 V491.2 H646 V512.0" fill="#fff" stroke="#e4574e" stroke-width="1.45"/>
<path d="M626.1,485.8 H639.1 M626.1,494.4 H639.1 M632.6,485.8 V494.4" stroke="#e4574e" stroke-width="1.6"/>
<path d="M620.7,486.09999999999997 L623.5,481.4 L617.9000000000001,481.4 Z" fill="#e4574e"/>
<path d="M644,483.59999999999997 L646.8,478.9 L641.2,478.9 Z" fill="#e4574e"/>
<path d="M632.5,493.9 L635.3,489.2 L629.7,489.2 Z" fill="#e4574e"/>
<path d="M620.7,504.4 L623.5,499.7 L617.9000000000001,499.7 Z" fill="#e4574e"/>
<path d="M644,500.7 L646.8,496 L641.2,496 Z" fill="#e4574e"/>
<text x="596.6" y="475.4" font-size="21" text-anchor="middle" font-weight="bold" fill="#000" >*</text>
<text x="640.5" y="469.1" font-size="21" text-anchor="middle" font-weight="bold" fill="#000" >*</text>
<text x="502.3" y="533.5" font-size="8.7" text-anchor="middle" font-weight="normal" fill="#222" >ND</text>
<text x="546.5" y="533.5" font-size="8.7" text-anchor="middle" font-weight="normal" fill="#222" >WD</text>
<text x="588.8" y="529.2" font-size="8.7" text-anchor="middle" font-weight="normal" fill="#222" >WD+BAM15</text>
<text x="588.8" y="540" font-size="8.7" text-anchor="middle" font-weight="normal" fill="#222" >(85mg kg<tspan font-size="5.5" dy="-3">-1</tspan><tspan dy="3">)</tspan></text>
<text x="635.4" y="529.2" font-size="8.7" text-anchor="middle" font-weight="normal" fill="#222" >WD+Ato</text>
<text x="635.4" y="540" font-size="8.7" text-anchor="middle" font-weight="normal" fill="#222" >(2mg kg<tspan font-size="5.5" dy="-3">-1</tspan><tspan dy="3">)</tspan></text>
<path d="M487.9,547 H514.6 M535.3,547 H653.6" stroke="#333" stroke-width="1.1"/>
<text x="502.3" y="557.4" font-size="8.7" text-anchor="middle" font-weight="normal" fill="#222" >WT</text>
<text x="592.4" y="557.4" font-size="8.7" text-anchor="middle" font-weight="normal" fill="#222" >ApoE (-/-)</text>
</svg>
</body></html>
